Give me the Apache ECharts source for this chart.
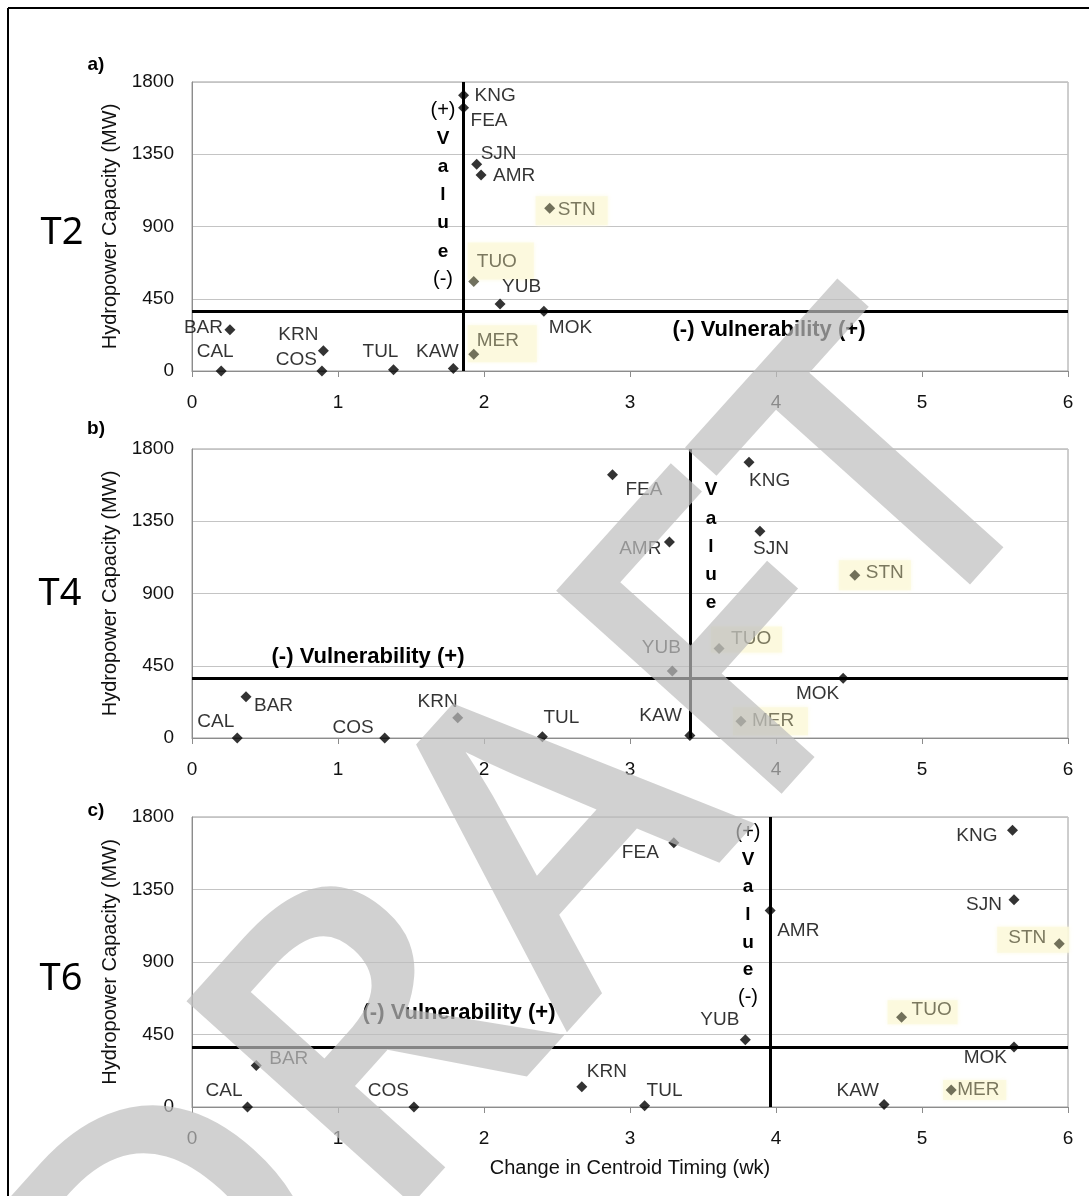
<!DOCTYPE html>
<html>
<head>
<meta charset="utf-8">
<script src="https://cdn.jsdelivr.net/npm/echarts@6/dist/echarts.min.js"></script>
<style>
  html, body { margin: 0; padding: 0; background: #fff; }
  #chart { width: 1089px; height: 1196px; }
</style>
</head>
<body>
<div id="chart"></div>
<script>
// Hydropower sites and their installed capacity (MW)
const sites = ['KNG', 'FEA', 'SJN', 'AMR', 'STN', 'TUO', 'YUB', 'MOK', 'BAR', 'KRN', 'MER', 'CAL', 'COS', 'TUL', 'KAW'];
const capacityMW = [1717, 1640, 1287, 1220, 1014, 557, 417, 372, 257, 126, 105, 0, 0, 8, 15];

// Change in runoff centroid timing (weeks) under each warming scenario
const timingT2 = [1.86, 1.86, 1.95, 1.98, 2.45, 1.93, 2.11, 2.41, 0.26, 0.90, 1.93, 0.20, 0.89, 1.38, 1.79];
const timingT4 = [3.815, 2.88, 3.89, 3.27, 4.54, 3.61, 3.29, 4.46, 0.37, 1.82, 3.76, 0.31, 1.32, 2.40, 3.41];
const timingT6 = [5.62, 3.30, 5.63, 3.96, 5.94, 4.86, 3.79, 5.63, 0.44, 2.67, 5.20, 0.38, 1.52, 3.10, 4.74];

const scenarios = ['T2', 'T4', 'T6'];
const panelTags = ['a)', 'b)', 'c)'];
const valueThreshold = [1.86, 3.41, 3.96];   // timing split per scenario (wk)
const vulnerabilityThreshold = 372;          // capacity split (MW)
const highlighted = ['STN', 'TUO', 'MER'];
const xTickMin = 0, xTickMax = 6, xTickStep = 1;
const yTickMin = 0, yTickMax = 1800, yTickStep = 450;

// ---- layout (pixels) ----
const FONT = '"Liberation Sans", Arial, sans-serif';
const OLIVE_MARK = '#4e4d38';
const OLIVE_TEXT = '#5a583e';
const HL_FILL = '#fbf9dc';
const grids = [
  { left: 192, top: 82, width: 876, height: 289 },
  { left: 192, top: 449, width: 876, height: 289 },
  { left: 192, top: 817, width: 876, height: 290 }
];
// [align, dx, dy] of each site label relative to its marker
const labelPlacement = [
  { KNG: ['left', 11, 0], FEA: ['left', 7, 13], SJN: ['left', 4, -11], AMR: ['left', 12, 1],
    STN: ['left', 8, 2], TUO: ['left', 3, -20], YUB: ['left', 2, -17], MOK: ['left', 5, 16],
    BAR: ['right', -7, -2], KRN: ['right', -5, -16], MER: ['left', 3, -13], CAL: ['center', -6, -19],
    COS: ['right', -5, -11], TUL: ['center', -13, -18], KAW: ['center', -16, -17] },
  { KNG: ['left', 0, 18], FEA: ['left', 13, 15], SJN: ['center', 11, 17], AMR: ['right', -8, 7],
    STN: ['left', 11, -2], TUO: ['left', 12, -10], YUB: ['center', -11, -23], MOK: ['right', -4, 15],
    BAR: ['left', 8, 9], KRN: ['right', 0, -16], MER: ['left', 11, 0], CAL: ['right', -3, -16],
    COS: ['right', -11, -10], TUL: ['left', 1, -19], KAW: ['right', -8, -20] },
  { KNG: ['right', -15, 5], FEA: ['right', -15, 10], SJN: ['right', -12, 5], AMR: ['left', 7, 20],
    STN: ['right', -13, -6], TUO: ['left', 10, -7], YUB: ['right', -6, -20], MOK: ['right', -7, 11],
    BAR: ['left', 13, -7], KRN: ['left', 5, -15], MER: ['left', 6, 0], CAL: ['right', -5, -16],
    COS: ['right', -5, -16], TUL: ['left', 2, -15], KAW: ['right', -5, -14] }
];
// highlight box edges [x0, y0, x1, y1] relative to the marker
const highlightBox = [
  { STN: [-14, -12, 58, 17], TUO: [-6, -39, 60, -2], MER: [-6, -29, 63, 8] },
  { STN: [-16, -15, 56, 15], TUO: [-8, -22, 63, 4], MER: [-8, -14, 67, 14] },
  { STN: [-62, -17, 10, 9], TUO: [-14, -17, 56, 7], MER: [-8, -10, 55, 10] }
];
// stacked "Value" annotation: x, first line y, line step, lines
const valueText = [
  { x: 443, y: 110, step: 28.3, lines: ['(+)', 'V', 'a', 'l', 'u', 'e', '(-)'] },
  { x: 711, y: 490, step: 28.3, lines: ['V', 'a', 'l', 'u', 'e'] },
  { x: 748, y: 832, step: 27.6, lines: ['(+)', 'V', 'a', 'l', 'u', 'e', '(-)'] }
];
const vulnText = [[769, 330], [368, 657], [459, 1013]];
const tagPos = [[96, 65], [96, 429], [96, 811]];
const scenPos = [[62, 233], [60, 594], [61, 979]];

const timings = [timingT2, timingT4, timingT6];

const option = {
  animation: false,
  backgroundColor: '#fff',
  grid: grids.map(g => Object.assign({ show: true, borderColor: '#9c9c9c', borderWidth: 1 }, g)),
  xAxis: grids.map((g, i) => ({
    gridIndex: i, type: 'value', min: xTickMin, max: xTickMax, interval: xTickStep,
    axisLine: { show: true, lineStyle: { color: '#8c8c8c', width: 1 } },
    axisTick: { show: true, length: 6, lineStyle: { color: '#8c8c8c' } },
    axisLabel: { margin: 22, fontSize: 19, color: '#111', fontFamily: FONT },
    splitLine: { show: false },
    name: i === 2 ? 'Change in Centroid Timing (wk)' : '',
    nameLocation: 'middle', nameGap: 51,
    nameTextStyle: { fontSize: 20, color: '#111', fontFamily: FONT }
  })),
  yAxis: grids.map((g, i) => ({
    gridIndex: i, type: 'value', min: yTickMin, max: yTickMax, interval: yTickStep,
    axisLine: { show: true, lineStyle: { color: '#8c8c8c', width: 1 } },
    axisTick: { show: false },
    axisLabel: { margin: 18, fontSize: 19, color: '#111', fontFamily: FONT, formatter: v => String(v) },
    splitLine: { show: true, lineStyle: { color: '#c4c4c4', width: 1 } },
    name: 'Hydropower Capacity (MW)', nameLocation: 'middle', nameGap: 71,
    nameTextStyle: { fontSize: 20, color: '#111', fontFamily: FONT }
  })),
  series: [],
  graphic: []
};

timings.forEach((timing, i) => {
  // pale boxes behind highlighted sites
  option.series.push({
    type: 'scatter', xAxisIndex: i, yAxisIndex: i, silent: true, z: 1,
    symbol: 'rect',
    itemStyle: { color: HL_FILL, shadowColor: HL_FILL, shadowBlur: 4 },
    data: highlighted.map(s => {
      const k = sites.indexOf(s);
      const [x0, y0, x1, y1] = highlightBox[i][s];
      return {
        value: [timing[k], capacityMW[k]],
        symbolSize: [x1 - x0, y1 - y0],
        symbolOffset: [(x0 + x1) / 2, (y0 + y1) / 2]
      };
    })
  });
  // site markers with threshold lines
  option.series.push({
    type: 'scatter', xAxisIndex: i, yAxisIndex: i, z: 3,
    symbol: 'diamond', symbolSize: 11,
    label: {
      show: true, position: 'inside', formatter: '{b}', verticalAlign: 'middle',
      fontSize: 19, fontFamily: FONT
    },
    data: sites.map((s, k) => {
      const [align, dx, dy] = labelPlacement[i][s];
      const hl = highlighted.includes(s);
      return {
        name: s,
        value: [timing[k], capacityMW[k]],
        itemStyle: { color: hl ? OLIVE_MARK : '#000' },
        label: { align: align, offset: [dx, dy], color: hl ? OLIVE_TEXT : '#000' }
      };
    }),
    markLine: {
      silent: true, symbol: ['none', 'none'], label: { show: false },
      lineStyle: { color: '#000', width: 3, type: 'solid' },
      data: [{ xAxis: valueThreshold[i] }, { yAxis: vulnerabilityThreshold }]
    }
  });

  // annotations
  const vt = valueText[i];
  vt.lines.forEach((t, j) => {
    const isSign = t.startsWith('(');
    option.graphic.push({
      type: 'text', x: vt.x, y: vt.y + j * vt.step, z: 20,
      style: {
        text: t, fill: '#000', align: 'center', verticalAlign: 'middle',
        font: (isSign ? 'normal 20px ' : 'bold 19px ') + FONT
      }
    });
  });
  option.graphic.push({
    type: 'text', x: vulnText[i][0], y: vulnText[i][1], z: 20,
    style: { text: '(-) Vulnerability (+)', fill: '#000', align: 'center', verticalAlign: 'middle', font: 'bold 22px ' + FONT }
  });
  option.graphic.push({
    type: 'text', x: tagPos[i][0], y: tagPos[i][1], z: 20,
    style: { text: panelTags[i], fill: '#000', align: 'center', verticalAlign: 'middle', font: 'bold 19px ' + FONT }
  });
  option.graphic.push({
    type: 'text', x: scenPos[i][0], y: scenPos[i][1], z: 20,
    style: { text: scenarios[i], fill: '#000', align: 'center', verticalAlign: 'middle', font: 'normal 38px "Noto Sans", sans-serif' }
  });
});

// page frame
option.graphic.push(
  { type: 'line', z: 20, shape: { x1: 8, y1: 8, x2: 1089, y2: 8 }, style: { stroke: '#000', lineWidth: 2 } },
  { type: 'line', z: 20, shape: { x1: 8, y1: 8, x2: 8, y2: 1196 }, style: { stroke: '#000', lineWidth: 2 } }
);

// draft stamp across the page
option.graphic.push({
  type: 'text', x: 532, y: 890, rotation: 48 * Math.PI / 180, z: 100, silent: true,
  style: {
    text: 'DRAFT', fill: 'rgba(190,190,190,0.7)', align: 'center', verticalAlign: 'middle',
    font: '600 425px "Open Sans", sans-serif'
  }
});

const chart = echarts.init(document.getElementById('chart'), null, { renderer: 'canvas' });
chart.setOption(option);
</script>
</body>
</html>
